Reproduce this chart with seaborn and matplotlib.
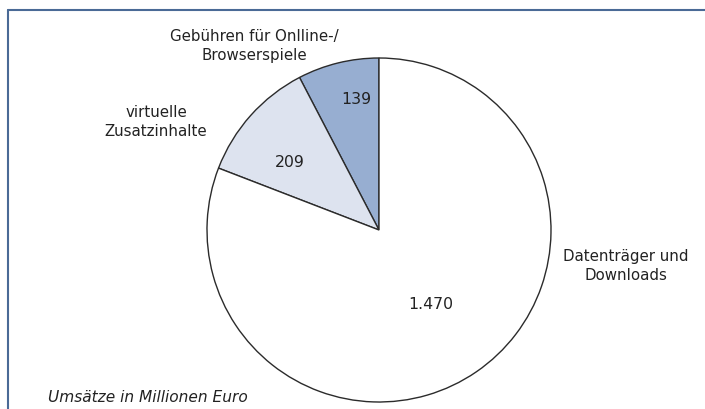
import matplotlib
matplotlib.use("Agg")
import matplotlib.pyplot as plt
import seaborn as sns
import numpy as np

categories = ["Gebühren für Onlline-/\nBrowserspiele", "virtuelle\nZusatzinhalte", "Datenträger und\nDownloads"]
values = [139, 209, 1470]
value_labels = ["139", "209", "1.470"]
colors = ["#97aed1", "#dde3ef", "#ffffff"]

sns.set_theme(style="white")
plt.rcParams["font.family"] = ["DejaVu Sans"]

W, H = 705, 409
fig = plt.figure(figsize=(W / 100, H / 100), dpi=100)
ax = fig.add_axes([0, 0, 1, 1])

cx, cy, r = 379, H - 230, 172
wedges, _ = ax.pie(values, colors=colors, startangle=90, counterclock=True,
                   center=(cx, cy), radius=r,
                   wedgeprops=dict(edgecolor="#2b2b2b", linewidth=1.0))
ax.set_xlim(0, W)
ax.set_ylim(0, H)
ax.set_aspect("auto")
ax.axis("off")

# value labels inside the slices: (fraction of radius, angle in degrees)
inner = [(0.77, 100), (0.65, 142.6), (0.53, -55.3)]
for lab, (d, a) in zip(value_labels, inner):
    ang = np.deg2rad(a)
    ax.text(cx + d * r * np.cos(ang), cy + d * r * np.sin(ang), lab,
            ha="center", va="center", fontsize=11.3, color="#222222")

# outer category labels
outer_pos = [(254, H - 46), (156, H - 122), (626, H - 266)]
for lab, (x, y) in zip(categories, outer_pos):
    ax.text(x, y, lab, ha="center", va="center", fontsize=10.8,
            color="#222222", linespacing=1.35)

ax.text(48, H - 398, "Umsätze in Millionen Euro", ha="left", va="center",
        fontsize=11.1, style="italic", color="#222222")

# frame lines (top and left)
frame_col = "#4a6a96"
fig.add_artist(plt.Line2D([8 / W, 1], [1 - 10 / H, 1 - 10 / H], color=frame_col, lw=1.5))
fig.add_artist(plt.Line2D([8 / W, 8 / W], [0, 1 - 10 / H], color=frame_col, lw=1.5))

fig.savefig("out.png", dpi=100)
